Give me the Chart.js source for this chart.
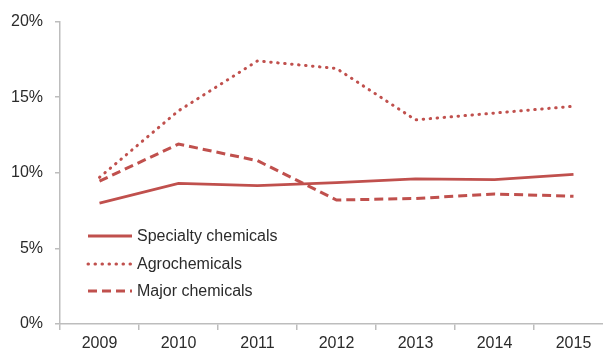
<!DOCTYPE html>
<html lang="en">
<head>
    <meta charset="UTF-8">
    <title>Chemicals growth</title>
    <style>
        html, body {
            margin: 0;
            padding: 0;
            background: #fff;
            overflow: hidden;
        }
        #wrap {
            width: 603px;
            height: 351px;
            overflow: hidden;
        }
    </style>
    <script src="https://cdn.jsdelivr.net/npm/chart.js@4"></script>
</head>
<body>
    <div id="wrap"><canvas id="growthChart" width="614" height="351"></canvas></div>
    <script>
        // Values (percent)
        const years = ['2009', '2010', '2011', '2012', '2013', '2014', '2015'];
        const specialty = [8.0, 9.3, 9.15, 9.35, 9.6, 9.55, 9.9];
        const agro = [9.7, 14.1, 17.4, 16.9, 13.5, 13.95, 14.4];
        const major = [9.45, 11.9, 10.8, 8.2, 8.3, 8.6, 8.45];
        const yTicks = [0, 5, 10, 15, 20];

        const red = '#c0504d';
        const axisGrey = '#bdbdbd';
        const textColor = '#2b2b2b';
        const fontFamily = '"Liberation Sans", Arial, sans-serif';

        // legend drawn inside the plot, lower left
        const innerLegend = {
            id: 'innerLegend',
            afterDraw(chart) {
                const ctx = chart.ctx;
                const x0 = 88, x1 = 132, tx = 137;
                const rows = [236, 264, 291];
                ctx.save();
                chart.data.datasets.forEach((ds, i) => {
                    const y = rows[i];
                    ctx.strokeStyle = ds.borderColor;
                    ctx.lineWidth = ds.borderWidth;
                    ctx.lineCap = ds.borderCapStyle || 'butt';
                    ctx.setLineDash(ds.borderDash || []);
                    ctx.beginPath();
                    ctx.moveTo(x0, y);
                    ctx.lineTo(x1, y);
                    ctx.stroke();
                    ctx.setLineDash([]);
                    ctx.fillStyle = textColor;
                    ctx.font = '16px ' + fontFamily;
                    ctx.textBaseline = 'middle';
                    ctx.textAlign = 'left';
                    ctx.fillText(ds.label, tx, y + 1);
                });
                ctx.restore();
            }
        };

        const ctx = document.getElementById('growthChart').getContext('2d');
        new Chart(ctx, {
            type: 'line',
            data: {
                labels: years,
                datasets: [
                    {
                        label: 'Specialty chemicals',
                        data: specialty,
                        borderColor: red,
                        borderWidth: 2.8,
                        pointRadius: 0,
                        tension: 0,
                        fill: false
                    },
                    {
                        label: 'Agrochemicals',
                        data: agro,
                        borderColor: red,
                        borderWidth: 3,
                        borderDash: [0.5, 6.5],
                        borderCapStyle: 'round',
                        pointRadius: 0,
                        tension: 0,
                        fill: false
                    },
                    {
                        label: 'Major chemicals',
                        data: major,
                        borderColor: red,
                        borderWidth: 3,
                        borderDash: [9, 5],
                        pointRadius: 0,
                        tension: 0,
                        fill: false
                    }
                ]
            },
            options: {
                responsive: false,
                animation: false,
                layout: {
                    // the right edge of the last category is cropped off in the picture
                    padding: { left: 0, right: 1, top: 21, bottom: 0 }
                },
                plugins: {
                    legend: { display: false },
                    tooltip: { enabled: false }
                },
                scales: {
                    x: {
                        type: 'category',
                        offset: true,
                        border: { color: axisGrey, width: 1.5 },
                        grid: {
                            offset: true,
                            drawOnChartArea: false,
                            color: axisGrey,
                            lineWidth: 1.5,
                            tickLength: 6
                        },
                        ticks: {
                            color: textColor,
                            font: { family: fontFamily, size: 16 },
                            padding: 4,
                            maxRotation: 0
                        },
                        afterFit(scale) {
                            scale.height = 27;
                        }
                    },
                    y: {
                        min: 0,
                        max: 20,
                        border: { color: axisGrey, width: 1.5 },
                        grid: {
                            drawOnChartArea: false,
                            color: axisGrey,
                            lineWidth: 1.5,
                            tickLength: 5
                        },
                        afterBuildTicks(scale) {
                            scale.ticks = yTicks.map(v => ({ value: v }));
                        },
                        ticks: {
                            color: textColor,
                            font: { family: fontFamily, size: 16 },
                            padding: 12,
                            callback: v => v + '%'
                        },
                        afterFit(scale) {
                            scale.width = 60;
                        }
                    }
                }
            },
            plugins: [innerLegend]
        });
    </script>
</body>
</html>
